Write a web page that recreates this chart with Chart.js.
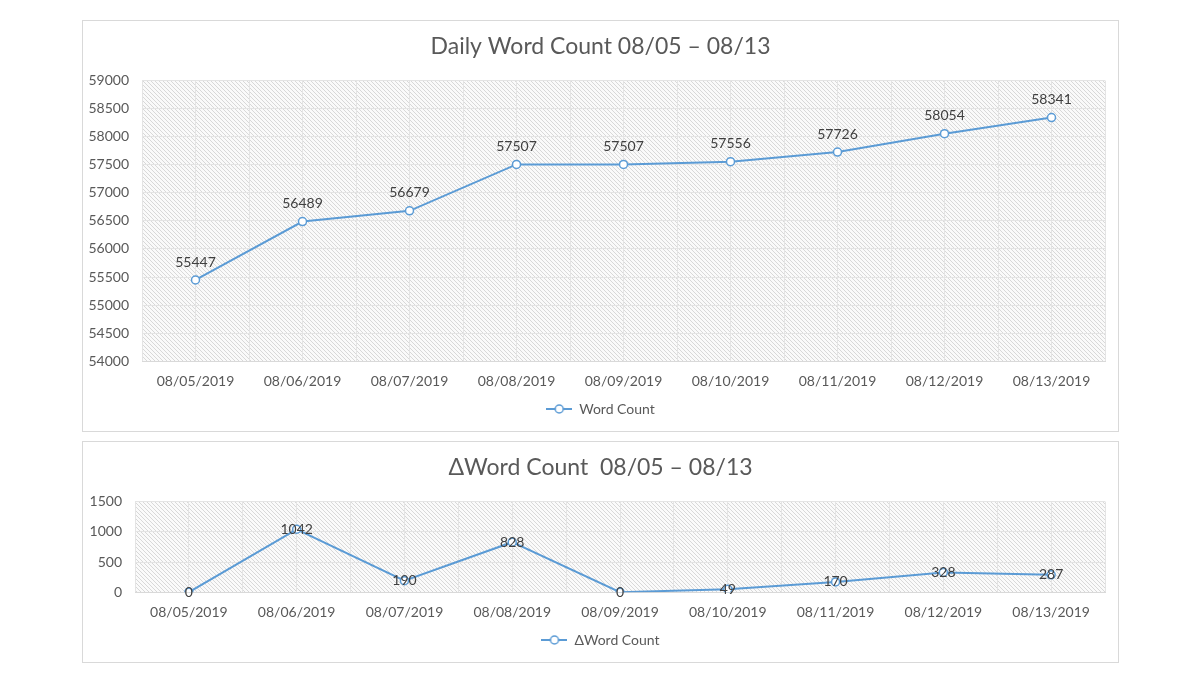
<!DOCTYPE html>
<html>
<head>
<meta charset="utf-8">
<script src="https://cdn.jsdelivr.net/npm/chart.js@4"></script>
<style>
    body { margin: 0; background: #fff; width: 1200px; height: 675px; position: relative; overflow: hidden; }
    .box { position: absolute; border: 1px solid #d9d9d9; box-sizing: border-box; background: #fff; }
    #box1 { left: 82px; top: 20px; width: 1037px; height: 412px; }
    #box2 { left: 82px; top: 441px; width: 1037px; height: 222px; }
</style>
</head>
<body>
<div class="box" id="box1"><canvas id="chart1"></canvas></div>
<div class="box" id="box2"><canvas id="chart2"></canvas></div>
<script>
const dates = ["08/05/2019", "08/06/2019", "08/07/2019", "08/08/2019", "08/09/2019",
    "08/10/2019", "08/11/2019", "08/12/2019", "08/13/2019"];
const wordCount = [55447, 56489, 56679, 57507, 57507, 57556, 57726, 58054, 58341];
const deltaCount = [0, 1042, 190, 828, 0, 49, 170, 328, 287];
const wordTicks = { min: 54000, max: 59000, step: 500 };
const deltaTicks = { min: 0, max: 1500, step: 500 };

const blue = "#5b9bd5";
const grey = "#595959";

Chart.defaults.font.family = "Lato";
Chart.defaults.font.size = 14;
Chart.defaults.color = grey;

// hatched plot background like the Excel chart
function makeHatch() {
    let c = document.createElement("canvas");
    c.width = 4; c.height = 4;
    let g = c.getContext("2d");
    g.fillStyle = "#fafafa";
    g.fillRect(0, 0, 4, 4);
    g.strokeStyle = "#d8d8d8";
    g.lineWidth = 1;
    g.beginPath();
    g.moveTo(-1, -1); g.lineTo(5, 5);
    g.moveTo(-1, 3); g.lineTo(1, 5);
    g.moveTo(3, -1); g.lineTo(5, 1);
    g.stroke();
    return c;
}
const hatchCanvas = makeHatch();

const hatchBg = {
    id: "hatchBg",
    beforeDraw(chart) {
        const a = chart.chartArea;
        const ctx = chart.ctx;
        ctx.save();
        ctx.fillStyle = ctx.createPattern(hatchCanvas, "repeat");
        ctx.fillRect(a.left, a.top, a.right - a.left, a.bottom - a.top);
        ctx.restore();
    }
};

const valueLabels = {
    id: "valueLabels",
    afterDatasetsDraw(chart, args, opts) {
        const ctx = chart.ctx;
        const meta = chart.getDatasetMeta(0);
        const values = chart.data.datasets[0].data;
        ctx.save();
        ctx.font = "14px Lato";
        ctx.fillStyle = "#404040";
        ctx.textAlign = "center";
        ctx.textBaseline = "middle";
        meta.data.forEach((pt, i) => {
            ctx.fillText(values[i], pt.x, pt.y + opts.dy);
        });
        ctx.restore();
    }
};

// legend marker: short line with an open circle
function legendMarker() {
    let c = document.createElement("canvas");
    c.width = 26; c.height = 12;
    let g = c.getContext("2d");
    g.strokeStyle = blue;
    g.lineWidth = 2;
    g.beginPath(); g.moveTo(0, 6); g.lineTo(26, 6); g.stroke();
    g.fillStyle = "#fff";
    g.lineWidth = 1.5;
    g.beginPath(); g.arc(13, 6, 4, 0, Math.PI * 2); g.fill(); g.stroke();
    return c;
}
const marker = legendMarker();

function makeChart(id, title, label, values, ticks, dy, yWidth) {
    const ctx = document.getElementById(id).getContext("2d");
    return new Chart(ctx, {
        type: "line",
        data: {
            labels: dates,
            datasets: [{
                label: label,
                data: values,
                borderColor: blue,
                backgroundColor: "#fff",
                borderWidth: 2,
                pointRadius: 4,
                pointBorderWidth: 1.5,
                pointBackgroundColor: "#fff",
                pointBorderColor: blue,
                tension: 0
            }]
        },
        options: {
            responsive: true,
            maintainAspectRatio: false,
            animation: false,
            layout: { padding: { left: 0, right: 0, top: 12, bottom: 5 } },
            scales: {
                x: {
                    offset: true,
                    grid: { offset: true, color: "#e4e4e4", drawTicks: false },
                    border: { color: "#d9d9d9" },
                    ticks: { color: grey, padding: 12, maxRotation: 0 }
                },
                x2: {
                    offset: true,
                    grid: { offset: false, color: "#e4e4e4", drawTicks: false },
                    border: { display: false },
                    ticks: { display: false }
                },
                y: {
                    min: ticks.min,
                    max: ticks.max,
                    afterFit: (scale) => { scale.width = yWidth; },
                    ticks: {
                        stepSize: ticks.step,
                        color: grey,
                        padding: 13,
                        callback: (v) => String(v)
                    },
                    grid: { color: "#e4e4e4", drawTicks: false },
                    border: { display: false }
                },
                // empty right-hand margin so the title stays centred on the box
                yRight: {
                    position: "right",
                    afterFit: (scale) => { scale.width = 13; },
                    ticks: { display: false },
                    grid: { display: false },
                    border: { display: false }
                }
            },
            plugins: {
                title: {
                    display: true,
                    text: title,
                    color: grey,
                    font: { size: 23, weight: "normal" },
                    padding: { top: 0, bottom: 20 }
                },
                legend: {
                    position: "bottom",
                    labels: {
                        usePointStyle: true,
                        pointStyleWidth: 26,
                        color: grey,
                        padding: 0,
                        generateLabels: (chart) => [{
                            text: label,
                            pointStyle: marker,
                            fontColor: grey,
                            datasetIndex: 0
                        }]
                    }
                },
                tooltip: { enabled: false },
                valueLabels: { dy: dy }
            }
        },
        plugins: [hatchBg, valueLabels]
    });
}

makeChart("chart1", "Daily Word Count 08/05 \u2013 08/13", "Word Count", wordCount, wordTicks, -18, 59);
makeChart("chart2", "\u0394Word Count  08/05 \u2013 08/13", "\u0394Word Count", deltaCount, deltaTicks, 0, 52);
</script>
</body>
</html>
